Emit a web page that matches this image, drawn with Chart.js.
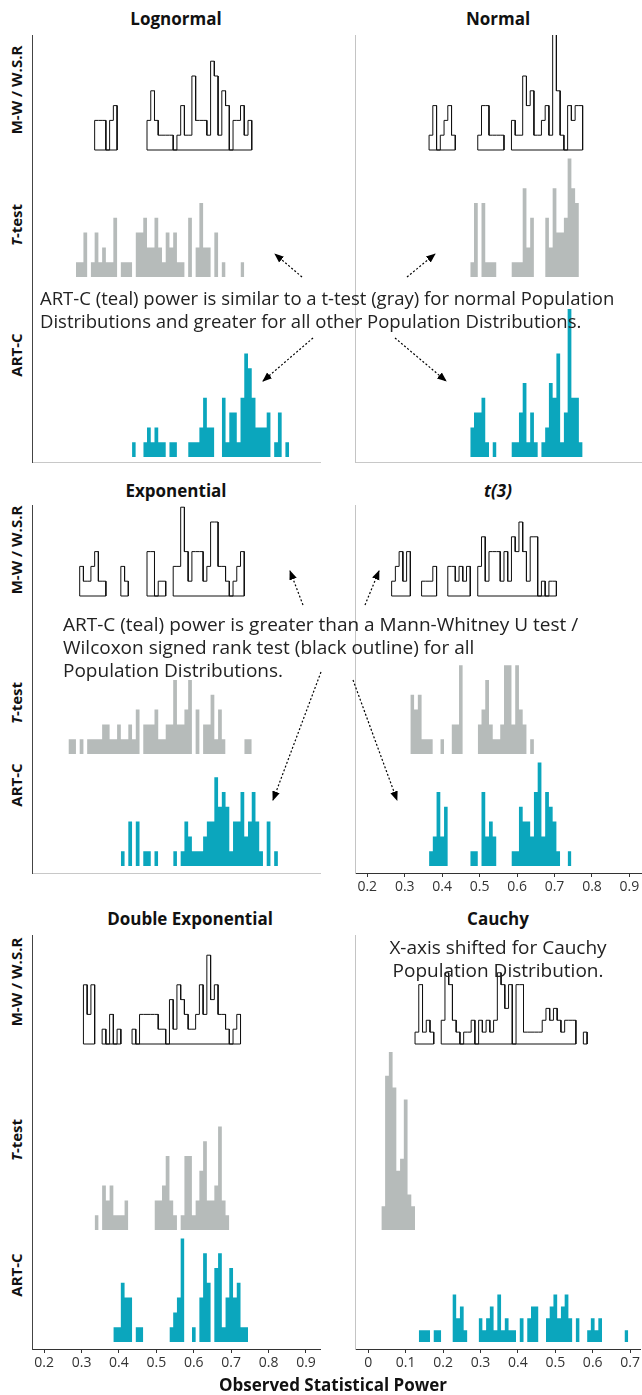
<!DOCTYPE html>
<html>
<head>
<meta charset="utf-8">
<script src="https://cdn.jsdelivr.net/npm/chart.js"></script>
<style>
  body { margin: 0; background: #fff; font-family: 'Open Sans', sans-serif; }
  #page { position: relative; width: 642px; height: 1395px; overflow: hidden; background: #fff; }
  .panel { position: absolute; }
  .title { position: absolute; font-weight: bold; font-size: 17px; color: #111; transform: translate(-50%, -50%); white-space: nowrap; }
  .rowlab { position: absolute; font-weight: bold; font-size: 15px; color: #111; transform: translate(-50%, -50%) rotate(-90deg); white-space: nowrap; }
  .note { position: absolute; font-size: 19px; color: #222; line-height: 23px; white-space: nowrap; }
  .xtitle { position: absolute; font-weight: bold; font-size: 17px; color: #111; transform: translate(-50%, -50%); white-space: nowrap; }
  svg { position: absolute; left: 0; top: 0; z-index: 5; }
</style>
</head>
<body>
<div id="page"></div>
<script>
// Histogram ridges: power of M-W / W.S.R, t-test and ART-C per population distribution
// every series = counts per 0.01 bin, starting at the bin centre given in *Start

const binWidth = 0.01;

// Lognormal
const lognormalStart = [0.34, 0.29, 0.44];
const lognormalMW = [2,2,2,0,2,3,0,0,0,0, 0,0,0,0,2,4,2,1,1,1, 1,0,1,3,1,1,5,2,2,2, 1,6,5,1,4,3,0,2,2,3, 1,2];
const lognormalT = [1,1,3,0,1,3,1,2,1,1, 4,0,1,1,1,0,3,3,4,2, 2,4,2,1,3,2,3,1,1,0, 4,0,2,5,2,2,0,3,0,1, 0,0,0,0,1];
const lognormalART = [1,0,0,1,2,1,2,1,1,0, 1,1,0,0,0,1,1,1,2,4, 2,2,0,0,4,1,3,3,1,4, 7,6,4,2,2,2,3,0,1,3, 0,1];

// Normal
const normalStart = [0.37, 0.48, 0.48];
const normalMW = [1,3,0,1,2,3,1,0,0,0, 0,0,0,1,3,3,1,1,1,1, 0,0,2,1,1,5,3,4,1,1, 2,3,1,8,4,1,0,3,2,3, 3];
const normalT = [1,5,0,5,1,1,1,0,0,0, 0,1,1,1,6,2,4,0,0,0, 4,2,6,3,3,4,8,6,5];
const normalART = [2,3,3,4,1,0,1,0,0,0, 0,1,1,3,5,1,3,1,0,1, 2,5,4,7,1,3,10,4,4,1];

// Exponential
const exponentialStart = [0.30, 0.27, 0.41];
const exponentialMW = [2,1,1,2,3,1,1,0,0,0, 0,2,1,0,0,0,0,0,3,3, 0,1,1,0,0,2,2,6,3,1, 3,3,3,1,2,5,5,2,2,1, 0,1,2,3];
const exponentialT = [1,1,0,1,0,1,1,1,1,2, 2,1,1,2,1,1,2,1,3,0, 2,2,2,3,1,1,2,2,5,2, 2,3,5,0,3,0,2,2,4,1, 3,1,0,0,0,0,0,1,1];
const exponentialART = [1,0,3,0,3,0,1,1,0,1, 0,0,0,0,1,0,1,3,2,1, 1,1,2,3,3,6,4,5,4,1, 3,3,5,2,3,5,3,1,0,3, 0,1];

// t(3)
const t3Start = [0.27, 0.32, 0.37];
const t3MW = [1,2,3,1,3,0,0,0,1,1, 1,2,0,0,0,2,2,1,2,1, 2,0,0,2,4,1,3,3,3,1, 3,1,4,3,5,3,1,4,4,0, 1,0,1,1];
const t3T = [4,3,4,1,1,1,0,0,1,0, 0,2,2,6,0,0,0,0,2,3, 5,2,1,1,2,6,6,2,6,3, 2,0,1];
const t3ART = [1,2,5,2,4,0,0,0,0,0, 0,1,1,0,5,2,3,2,0,0, 0,0,1,1,4,3,3,2,5,7, 2,5,4,3,1,0,0,1];

// Double Exponential
const doubleExpStart = [0.31, 0.34, 0.39];
const doubleExpMW = [4,2,4,0,0,1,0,2,0,1, 0,0,0,1,0,2,2,2,2,2, 1,1,0,3,1,4,3,2,1,1, 2,4,2,6,3,4,2,2,1,0, 1,2];
const doubleExpT = [1,0,3,2,3,1,1,1,2,0, 0,0,0,0,0,0,2,2,3,5, 2,1,0,1,5,5,1,2,4,6, 2,2,3,7,2,1];
const doubleExpART = [1,1,4,3,3,0,1,1,0,0, 0,0,0,0,0,1,2,3,7,0, 0,1,0,3,6,4,0,5,6,1, 3,5,3,4,1,1];

// Cauchy
const cauchyStart = [0.13, 0.04, 0.14];
const cauchyMW = [1,5,1,2,1,0,0,2,6,5, 2,1,0,1,1,2,0,2,1,2, 1,2,6,5,3,5,0,5,5,1, 1,1,1,1,2,3,2,3,2,1, 2,2,2,0,0,1];
const cauchyT = [2,13,15,12,5,6,11,3,2];
const cauchyART = [1,1,1,0,1,1,0,0,0,4, 2,3,1,0,0,0,2,1,2,3, 1,4,1,2,1,1,0,2,0,2, 3,3,0,0,2,3,4,2,3,4, 2,0,2,0,0,1,2,1,2,0, 0,0,0,0,0,1];

// x-axis ticks
const powerTicks = [0.2, 0.3, 0.4, 0.5, 0.6, 0.7, 0.8, 0.9];
const powerTickLabels = ['0.2', '0.3', '0.4', '0.5', '0.6', '0.7', '0.8', '0.9'];
const cauchyTicks = [0, 0.1, 0.2, 0.3, 0.4, 0.5, 0.6, 0.7];
const cauchyTickLabels = ['0', '0.1', '0.2', '0.3', '0.4', '0.5', '0.6', '0.7'];

const rowNames = ['M-W / W.S.R', '<i>T</i>-test', 'ART-C'];

const GRAY = '#b6bbba';
const TEAL = '#0ba6bd';

// layout: plot rectangles (px), row baselines (px) and px per count
const panels = [
  { title: 'Lognormal', cx: 176, ty: 18, left: 32, top: 35, w: 288, h: 427, xMin: 0.1675, xMax: 0.9375, ticks: null,
    rows: [150, 277, 457], unit: 14.8, start: lognormalStart, series: [lognormalMW, lognormalT, lognormalART],
    labels: [90, 225, 355], axisColor: '#444' },
  { title: 'Normal', cx: 498, ty: 18, left: 355, top: 35, w: 286, h: 427, xMin: 0.1672, xMax: 0.9309, ticks: null,
    rows: [150, 277, 457], unit: 14.8, start: normalStart, series: [normalMW, normalT, normalART],
    labels: null, axisColor: '#c4c4c4' },
  { title: 'Exponential', cx: 176, ty: 490, left: 32, top: 505, w: 288, h: 368, xMin: 0.1675, xMax: 0.9375, ticks: null,
    rows: [596, 754, 866], unit: 14.8, start: exponentialStart, series: [exponentialMW, exponentialT, exponentialART],
    labels: [550, 703, 785], axisColor: '#444' },
  { title: '<i>t(3)</i>', cx: 498, ty: 490, left: 355, top: 505, w: 286, h: 368, xMin: 0.1672, xMax: 0.9309,
    ticks: [powerTicks, powerTickLabels],
    rows: [596, 754, 866], unit: 14.8, start: t3Start, series: [t3MW, t3T, t3ART],
    labels: null, axisColor: '#c4c4c4' },
  { title: 'Double Exponential', cx: 190, ty: 918, left: 32, top: 935, w: 288, h: 414, xMin: 0.1675, xMax: 0.9375,
    ticks: [powerTicks, powerTickLabels],
    rows: [1044, 1230, 1342], unit: 14.8, start: doubleExpStart, series: [doubleExpMW, doubleExpT, doubleExpART],
    labels: [982, 1140, 1275], axisColor: '#444' },
  { title: 'Cauchy', cx: 498, ty: 918, left: 355, top: 935, w: 286, h: 414, xMin: -0.0355, xMax: 0.727,
    ticks: [cauchyTicks, cauchyTickLabels],
    rows: [1044, 1230, 1342], unit: 11.87, start: cauchyStart, series: [cauchyMW, cauchyT, cauchyART],
    labels: null, axisColor: '#c4c4c4' }
];

const page = document.getElementById('page');

function addDiv(cls, html, x, y) {
  const d = document.createElement('div');
  d.className = cls;
  d.innerHTML = html;
  d.style.left = x + 'px';
  d.style.top = y + 'px';
  page.appendChild(d);
  return d;
}

// split a histogram into runs; two or more empty bins end a run
function runsOf(counts) {
  const runs = [];
  let cur = null, zeros = 0;
  counts.forEach((c, i) => {
    if (c > 0) {
      if (cur && zeros < 2) cur[1] = i;
      else { cur = [i, i]; runs.push(cur); }
      zeros = 0;
    } else zeros++;
  });
  return runs;
}

function stepPath(start, counts, base, a, b) {
  const edge = (i, side) => Math.round((start + i * binWidth + side * binWidth / 2) * 10000) / 10000;
  const pts = [{ x: edge(a, -1), y: base }];
  for (let i = a; i <= b; i++) {
    pts.push({ x: edge(i, -1), y: base + counts[i] });
    pts.push({ x: edge(i, 1), y: base + counts[i] });
  }
  pts.push({ x: edge(b, 1), y: base });
  return pts;
}

function buildDatasets(p) {
  const sets = [];
  const bottom = p.top + p.h;
  p.series.forEach((counts, r) => {
    const base = (bottom - p.rows[r]) / p.unit;
    const start = p.start[r];
    runsOf(counts).forEach(([a, b]) => {
      const pts = stepPath(start, counts, base, a, b);
      if (r === 0) {
        pts.push({ x: pts[0].x, y: base });
        sets.push({ data: pts, borderColor: '#111', borderWidth: 1, fill: false, pointRadius: 0, tension: 0 });
      } else {
        sets.push({ data: pts, borderColor: 'transparent', borderWidth: 0, backgroundColor: r === 1 ? GRAY : TEAL,
          fill: { value: base }, pointRadius: 0, tension: 0 });
      }
    });
  });
  return sets;
}

panels.forEach(p => {
  const padL = 3, padR = 1, padT = 3;
  const axisH = p.ticks ? 30 : 1;
  const box = document.createElement('div');
  box.className = 'panel';
  box.style.left = (p.left - padL) + 'px';
  box.style.top = (p.top - padT) + 'px';
  const cw = p.w + padL + padR, ch = p.h + padT + axisH;
  box.style.width = cw + 'px';
  box.style.height = ch + 'px';
  const cv = document.createElement('canvas');
  cv.width = cw; cv.height = ch;
  cv.style.width = cw + 'px'; cv.style.height = ch + 'px';
  box.appendChild(cv);
  page.appendChild(box);

  const tickVals = p.ticks ? p.ticks[0] : [];
  const tickLabs = p.ticks ? p.ticks[1] : [];

  new Chart(cv.getContext('2d'), {
    type: 'line',
    data: { datasets: buildDatasets(p) },
    options: {
      responsive: false,
      animation: false,
      layout: { padding: { left: padL, right: padR, top: padT, bottom: 0 } },
      plugins: { legend: { display: false }, tooltip: { enabled: false }, title: { display: false } },
      elements: { point: { radius: 0 } },
      scales: {
        x: {
          type: 'linear', min: p.xMin, max: p.xMax,
          afterFit: s => { s.height = axisH; },
          afterBuildTicks: s => { s.ticks = tickVals.map(v => ({ value: v })); },
          ticks: {
            display: !!p.ticks, autoSkip: false, maxRotation: 0, padding: 2,
            color: '#333', font: { family: 'Open Sans', size: 14 },
            callback: (v, i) => tickLabs[i]
          },
          grid: { display: !!p.ticks, drawOnChartArea: false, drawTicks: true, tickLength: 4, color: '#333' },
          border: { display: true, color: p.ticks ? '#333' : '#c8c8c8', width: 1 }
        },
        y: {
          type: 'linear', min: 0, max: p.h / p.unit,
          afterFit: s => { s.width = 0; },
          ticks: { display: false },
          grid: { display: false, drawTicks: false },
          border: { display: true, color: p.axisColor, width: 1 }
        }
      }
    }
  });

  addDiv('title', p.title, p.cx, p.ty);
  if (p.labels) {
    p.labels.forEach((y, i) => addDiv('rowlab', rowNames[i], 16, y));
  }
});

// annotations
const n1 = addDiv('note', 'ART-C (teal) power is similar to a t-test (gray) for normal Population<br>Distributions and greater for all other Population Distributions.', 40, 286);
n1.style.fontSize = '18.5px';
addDiv('note', 'ART-C (teal) power is greater than a Mann-Whitney U test /<br>Wilcoxon signed rank test (black outline) for all<br>Population Distributions.', 63, 613);
const cn = addDiv('note', 'X-axis shifted for Cauchy<br>Population Distribution.', 498, 936);
cn.style.textAlign = 'center';
cn.style.transform = 'translateX(-50%)';
addDiv('xtitle', 'Observed Statistical Power', 333, 1384);

// dotted arrows from the annotations to the histograms
const arrows = [
  [302, 277, 275, 254], [407, 277, 435, 254], [313, 338, 263, 381], [395, 338, 446, 381],
  [303, 605, 290, 571], [365, 605, 379, 571], [321, 672, 273, 800], [353, 680, 397, 800]
];
const ns = 'http://www.w3.org/2000/svg';
const svg = document.createElementNS(ns, 'svg');
svg.setAttribute('width', 642);
svg.setAttribute('height', 1395);
svg.innerHTML = '<defs><marker id="ah" viewBox="0 0 10 10" refX="9" refY="5" markerWidth="8" markerHeight="8" orient="auto"><path d="M0,1 L10,5 L0,9 z" fill="#000"/></marker></defs>' +
  arrows.map(a => `<line x1="${a[0]}" y1="${a[1]}" x2="${a[2]}" y2="${a[3]}" stroke="#000" stroke-width="1.2" stroke-dasharray="2 2" marker-end="url(#ah)"/>`).join('');
page.appendChild(svg);
</script>
</body>
</html>
